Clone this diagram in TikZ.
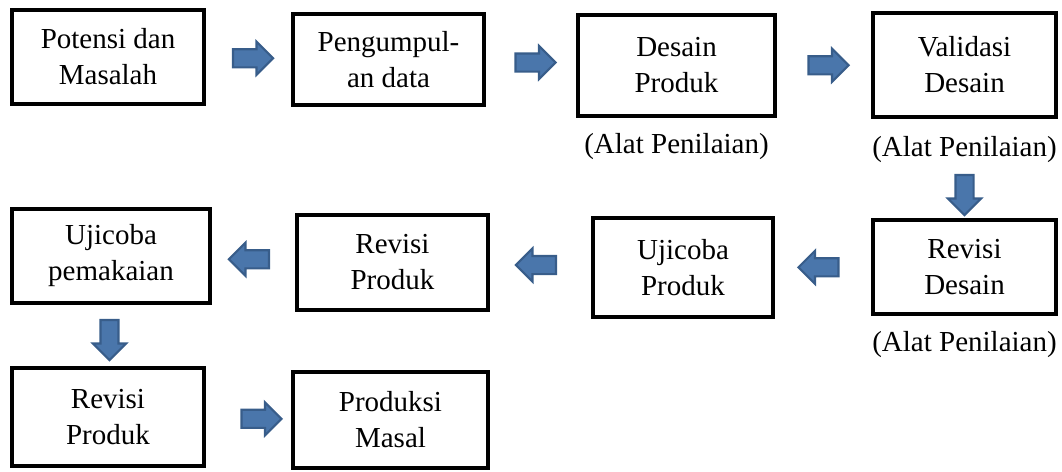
\documentclass[tikz,border=0pt]{standalone}
\usepackage{fontspec}
\setmainfont{Liberation Serif}
\usetikzlibrary{positioning,calc,shapes.arrows}
\definecolor{arrowfill}{RGB}{74,118,171}
\definecolor{arrowline}{RGB}{56,93,138}
\begin{document}
\begin{tikzpicture}[x=0.02cm,y=-0.02cm,
  box/.style={draw,line width=2.2pt,align=center,inner sep=0pt,font=\fontsize{16.5}{20.5}\selectfont},
  blockarrow/.style={single arrow,draw=arrowline,fill=arrowfill,line width=1.2pt,inner xsep=0pt,inner ysep=0.16cm,
    minimum height=0.8cm,single arrow head extend=0.15cm},
  downarrow/.style={blockarrow,shape border rotate=270,inner xsep=0.16cm,inner ysep=0pt},
  note/.style={inner sep=0pt,font=\fontsize{16.5}{20.5}\selectfont},
  ]
\useasboundingbox (0,0) rectangle (1062,471);

\node[box,minimum width=3.84cm,minimum height=1.88cm] (potensi) at (108,57) {Potensi dan\\Masalah};
\node[box,minimum width=3.82cm,minimum height=1.82cm] (pengumpulan) at (388.5,59.5) {Pengumpul-\\an data};
\node[box,minimum width=3.94cm,minimum height=2.02cm] (desain) at (676.5,65.5) {Desain\\Produk};
\node[box,minimum width=3.66cm,minimum height=2.08cm] (validasi) at (964.5,65) {Validasi\\Desain};
\node[box,minimum width=3.66cm,minimum height=1.88cm] (revdesain) at (964.5,267) {Revisi\\Desain};
\node[box,minimum width=3.60cm,minimum height=1.98cm] (ujiproduk) at (683,267.5) {Ujicoba\\Produk};
\node[box,minimum width=3.82cm,minimum height=1.90cm] (revproduk) at (392.5,262.5) {Revisi\\Produk};
\node[box,minimum width=3.96cm,minimum height=1.88cm] (ujipakai) at (111,256) {Ujicoba\\pemakaian};
\node[box,minimum width=3.84cm,minimum height=1.96cm] (revprodukdua) at (108,417) {Revisi\\Produk};
\node[box,minimum width=3.90cm,minimum height=1.92cm] (produksi) at (390.5,420) {Produksi\\Masal};

\node[note,below=0.3cm of desain] (alatdesain) {(Alat Penilaian)};
\node[note,below=0.34cm of validasi] (alatvalidasi) {(Alat Penilaian)};
\node[note,below=0.3cm of revdesain] (alatrevisi) {(Alat Penilaian)};

\node[blockarrow] (panahsatu) at ($(potensi.east)!0.5!(pengumpulan.west)$) {};
\node[blockarrow] (panahdua) at ($(pengumpulan.east)!0.5!(desain.west)$) {};
\node[blockarrow] (panahtiga) at ($(desain.east)!0.5!(validasi.west)$) {};
\node[downarrow] (panahempat) at ($(alatvalidasi.south)!0.5!(revdesain.north)$) {};
\node[blockarrow,shape border rotate=180] (panahlima) at ($(revdesain.west)!0.5!(ujiproduk.east)$) {};
\node[blockarrow,shape border rotate=180] (panahenam) at ($(ujiproduk.west)!0.5!(revproduk.east)$) {};
\node[blockarrow,shape border rotate=180] (panahtujuh) at ($(revproduk.west)!0.5!(ujipakai.east)$) {};
\node[downarrow] (panahdelapan) at ($(ujipakai.south)!0.5!(revprodukdua.north)$) {};
\node[blockarrow] (panahsembilan) at ($(revprodukdua.east)!0.6!(produksi.west)$) {};
\end{tikzpicture}
\end{document}
